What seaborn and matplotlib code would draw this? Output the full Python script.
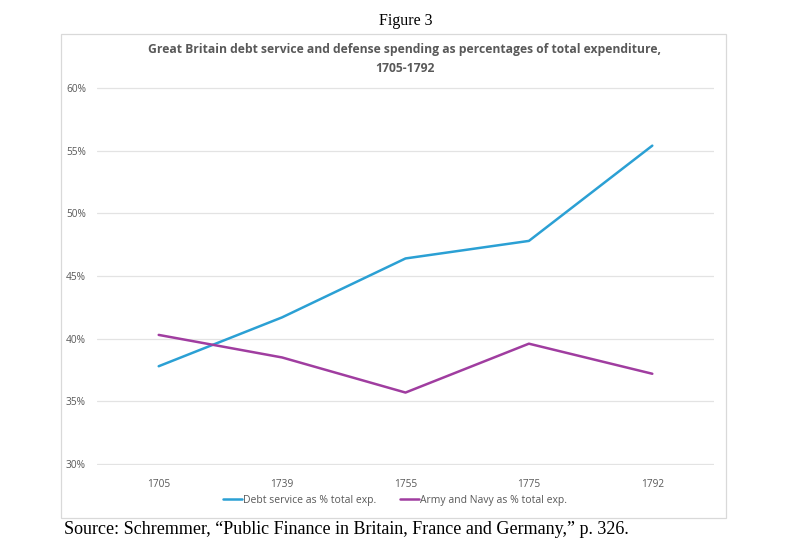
"""Great Britain debt service vs. defense spending, 1705-1792."""

import matplotlib

matplotlib.use("Agg")
import matplotlib.pyplot as plt
import pandas as pd
import seaborn as sns
from matplotlib.patches import Rectangle
from matplotlib.ticker import FuncFormatter

YEARS = ["1705", "1739", "1755", "1775", "1792"]
DEBT_SERVICE = [37.8, 41.7, 46.4, 47.8, 55.4]
ARMY_NAVY = [40.3, 38.5, 35.7, 39.6, 37.2]
SERIES_NAMES = ["Debt service as % total exp.", "Army and Navy as % total exp."]
Y_TICKS = [30, 35, 40, 45, 50, 55, 60]

PALETTE = {SERIES_NAMES[0]: "#2BA0D4", SERIES_NAMES[1]: "#A03DA0"}
TEXT_GREY = "#595959"


def build_frame() -> pd.DataFrame:
    rows = []
    for name, values in zip(SERIES_NAMES, [DEBT_SERVICE, ARMY_NAVY]):
        for year, value in zip(YEARS, values):
            rows.append({"Year": year, "Share": value, "Series": name})
    return pd.DataFrame(rows)


def main() -> None:
    sns.set_theme(style="white")
    plt.rcParams["font.family"] = ["Open Sans", "DejaVu Sans"]

    fig = plt.figure(figsize=(8.06, 5.48), dpi=100)
    W, H = 806, 548

    # chart frame
    fig.patches.append(
        Rectangle((61 / W, 1 - 518 / H), 665 / W, 484 / H, transform=fig.transFigure,
                  fill=False, edgecolor="#d9d9d9", linewidth=0.9)
    )

    ax = fig.add_axes([97 / W, 1 - 465 / H, 617 / W, 378 / H])
    df = build_frame()
    sns.lineplot(data=df, x="Year", y="Share", hue="Series", palette=PALETTE,
                 linewidth=1.8, ax=ax, legend=False)

    ax.set_xlim(-0.5, len(YEARS) - 0.5)
    ax.set_ylim(Y_TICKS[0] - 0.08, Y_TICKS[-1] + 0.08)
    ax.set_yticks(Y_TICKS)
    ax.yaxis.set_major_formatter(FuncFormatter(lambda v, _: f"{v:.0f}%"))
    ax.grid(axis="y", color="#e3e3e3", linewidth=0.9)
    ax.set_axisbelow(True)
    for spine in ax.spines.values():
        spine.set_visible(False)
    ax.tick_params(axis="both", length=0, labelsize=7.3, colors=TEXT_GREY)
    ax.tick_params(axis="x", pad=10)
    ax.tick_params(axis="y", pad=8)
    ax.set_xlabel("")
    ax.set_ylabel("")

    # legend
    handles = [plt.Line2D([], [], color=PALETTE[n], linewidth=1.8) for n in SERIES_NAMES]
    fig.legend(handles, SERIES_NAMES, loc="center", bbox_to_anchor=(395 / W, 1 - 500 / H),
               ncol=2, frameon=False, fontsize=7.5, labelcolor=TEXT_GREY,
               handlelength=1.9, handletextpad=0.1, columnspacing=2.2)

    fig.text(405 / W, 1 - 59 / H,
             "Great Britain debt service and defense spending as percentages of total expenditure,\n1705-1792",
             ha="center", va="center", fontsize=8.7, fontweight="bold", color=TEXT_GREY,
             linespacing=1.55)

    fig.text(406 / W, 1 - 21 / H, "Figure 3", ha="center", va="center",
             fontsize=11.5, family=["Liberation Serif", "DejaVu Serif"], color="black")
    fig.text(64 / W, 1 - 529 / H,
             "Source: Schremmer, \u201cPublic Finance in Britain, France and Germany,\u201d p. 326.",
             ha="left", va="center", fontsize=13, family=["Liberation Serif", "DejaVu Serif"],
             color="black")

    fig.savefig("out.png", dpi=100)
    plt.close(fig)


if __name__ == "__main__":
    main()
